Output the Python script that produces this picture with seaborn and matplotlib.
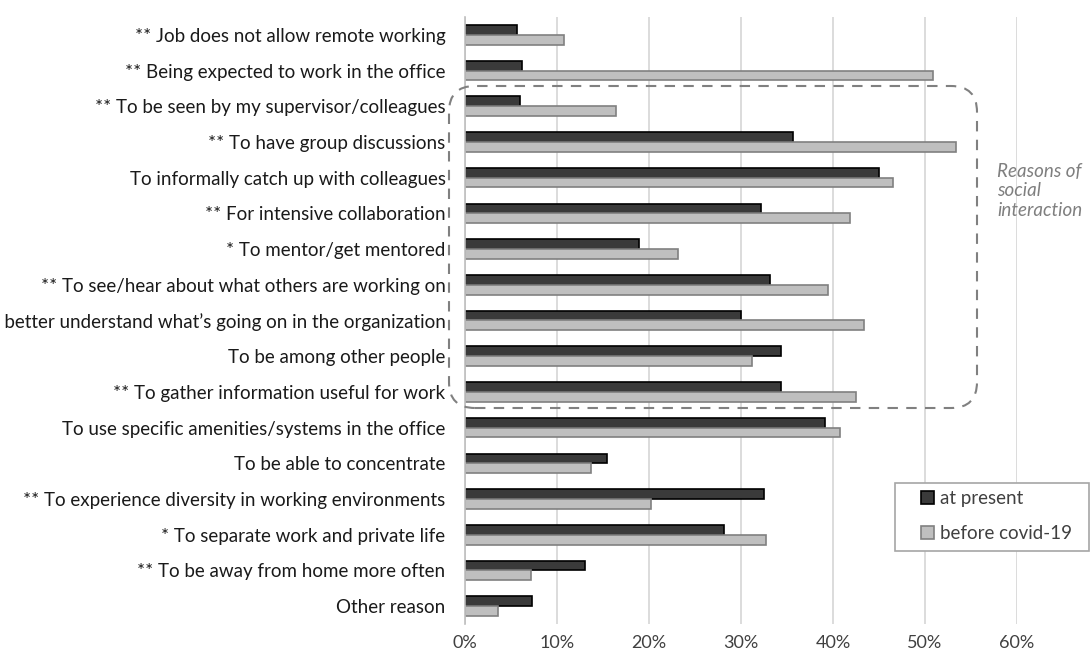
import pandas as pd
import seaborn as sns
import matplotlib.pyplot as plt
from matplotlib.patches import FancyBboxPatch, Rectangle
from matplotlib.transforms import IdentityTransform
from matplotlib.ticker import PercentFormatter


categories = [
    "** Job does not allow remote working",
    "** Being expected to work in the office",
    "** To be seen by my supervisor/colleagues",
    "** To have group discussions",
    "To informally catch up with colleagues",
    "** For intensive collaboration",
    "* To mentor/get mentored",
    "** To see/hear about what others are working on",
    "To better understand what\u2019s going on in the organization",
    "To be among other people",
    "** To gather information useful for work",
    "To use specific amenities/systems in the office",
    "To be able to concentrate",
    "** To experience diversity in working environments",
    "* To separate work and private life",
    "** To be away from home more often",
    "Other reason",
]
at_present = [5.7, 6.2, 6.0, 35.7, 45.0, 32.2, 18.9, 33.1, 30.0, 34.4,
              34.3, 39.1, 15.4, 32.5, 28.1, 13.0, 7.3]
before_covid = [10.8, 50.9, 16.4, 53.4, 46.5, 41.9, 23.2, 39.5, 43.4, 31.2,
                42.5, 40.8, 13.7, 20.2, 32.7, 7.2, 3.6]
series_names = ["at present", "before covid-19"]

df = pd.concat([
    pd.DataFrame({"reason": categories, "share": at_present, "period": series_names[0]}),
    pd.DataFrame({"reason": categories, "share": before_covid, "period": series_names[1]}),
])

sns.set_style("white")
plt.rcParams["font.family"] = ["Lato", "DejaVu Sans"]

fig = plt.figure(figsize=(10.91, 6.55), dpi=100)
ax = fig.add_axes([465 / 1091, 1 - 624 / 655, (1017 - 465) / 1091, (624 - 17) / 655])

sns.barplot(data=df, y="reason", x="share", hue="period", order=categories,
            hue_order=series_names, orient="h", width=0.55,
            palette={"at present": "#3a3a3a", "before covid-19": "#bfbfbf"},
            linewidth=1.2, ax=ax)

edge_colors = ["#000000", "#808080"]
for cont, ec in zip(ax.containers, edge_colors):
    for bar in cont:
        bar.set_edgecolor(ec)

ax.set_xlim(0, 60)
ax.set_ylim(len(categories) - 0.5, -0.5)
ax.set_xticks(range(0, 61, 10))
ax.xaxis.set_major_formatter(PercentFormatter(decimals=0))
ax.set_xlabel("")
ax.set_ylabel("")
ax.grid(axis="x", color="#d9d9d9", linewidth=1.3)
ax.set_axisbelow(True)
for side in ["top", "right", "bottom"]:
    ax.spines[side].set_visible(False)
ax.spines["left"].set_color("#bfbfbf")
ax.spines["left"].set_linewidth(1.2)
ax.tick_params(axis="y", length=0, pad=14, labelsize=13.5, labelcolor="#1a1a1a")
ax.tick_params(axis="x", length=0, pad=8, labelsize=13, labelcolor="#404040")

# dashed rounded box around the social interaction reasons
box = FancyBboxPatch((449, 655 - 408), 528, 322,
                     boxstyle="round,pad=0,rounding_size=26",
                     transform=IdentityTransform(), fill=False,
                     edgecolor="#808080", linestyle=(0, (5, 4)), linewidth=1.5,
                     clip_on=False)
fig.patches.append(box)

fig.text(997 / 1091, 1 - 191 / 655, "Reasons of\nsocial\ninteraction",
         ha="left", va="center", fontsize=13.5, style="italic", color="#7f7f7f",
         linespacing=1.15)

# legend frame drawn by hand so the padding can match the reference
frame = Rectangle((895, 655 - 551), 194, 68, transform=IdentityTransform(),
                  facecolor="white", edgecolor="#a6a6a6", linewidth=1.2,
                  clip_on=False, zorder=4)
ax.add_patch(frame)

leg = ax.legend(loc="upper left", bbox_to_anchor=(921 / 1091, 1 - 490 / 655),
                bbox_transform=fig.transFigure, frameon=False,
                fontsize=13.5, handlelength=0.7, handleheight=0.7,
                handletextpad=0.3, labelspacing=0.95, borderpad=0,
                borderaxespad=0)
leg.set_zorder(5)
for handle, ec in zip(leg.legend_handles, edge_colors):
    handle.set_edgecolor(ec)
    handle.set_linewidth(1.2)
for txt in leg.get_texts():
    txt.set_color("#404040")

fig.savefig("out.png", dpi=100)
